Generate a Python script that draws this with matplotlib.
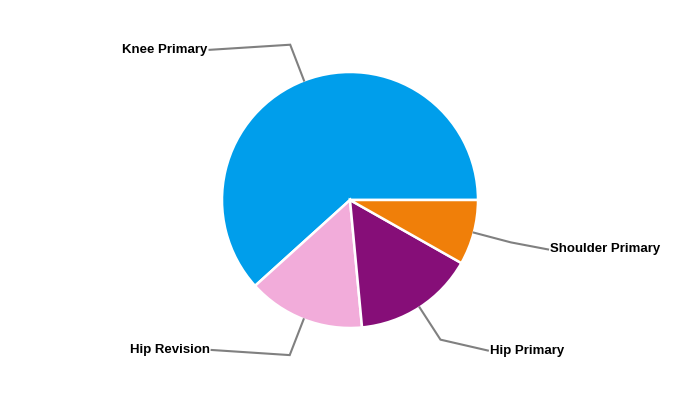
import numpy as np
import matplotlib.pyplot as plt

labels = ['Knee Primary', 'Hip Revision', 'Hip Primary', 'Shoulder Primary']
values = [61.7, 14.8, 15.3, 8.2]
colors = ['#009EEB', '#F2ACDA', '#860E78', '#F07F09']

# label placement: horizontal run after the elbow, small vertical shift (radius units)
runs = [-0.63, -0.61, 0.37, 0.29]
shifts = [-0.04, 0.04, -0.085, -0.055]

fig = plt.figure(figsize=(7, 4), dpi=100)
ax = fig.add_axes([0, 0, 1, 1])
R = 128.0

wedges, _ = ax.pie(values, colors=colors, startangle=0, counterclock=True,
                   radius=1.0, center=(0, 0), normalize=True,
                   wedgeprops=dict(edgecolor='white', linewidth=1.8))
ax.set_xlim(-350 / R, 350 / R)
ax.set_ylim(-200 / R, 200 / R)
ax.set_aspect('equal')
ax.axis('off')

for w, lab, run, sh in zip(wedges, labels, runs, shifts):
    mid = np.deg2rad((w.theta1 + w.theta2) / 2)
    x0, y0 = np.cos(mid), np.sin(mid)
    x1, y1 = 1.3 * x0, 1.3 * y0
    x2, y2 = x1 + run, y1 + sh
    ax.plot([x0, x1, x2], [y0, y1, y2], color='#808080', lw=1.5,
            solid_joinstyle='miter')
    ha = 'right' if run < 0 else 'left'
    dx = -0.015 if run < 0 else 0.015
    ax.text(x2 + dx, y2, lab, ha=ha, va='center', fontsize=9.5,
            fontweight='bold', family='Liberation Sans', color='black')

fig.savefig('out.png', dpi=100)
